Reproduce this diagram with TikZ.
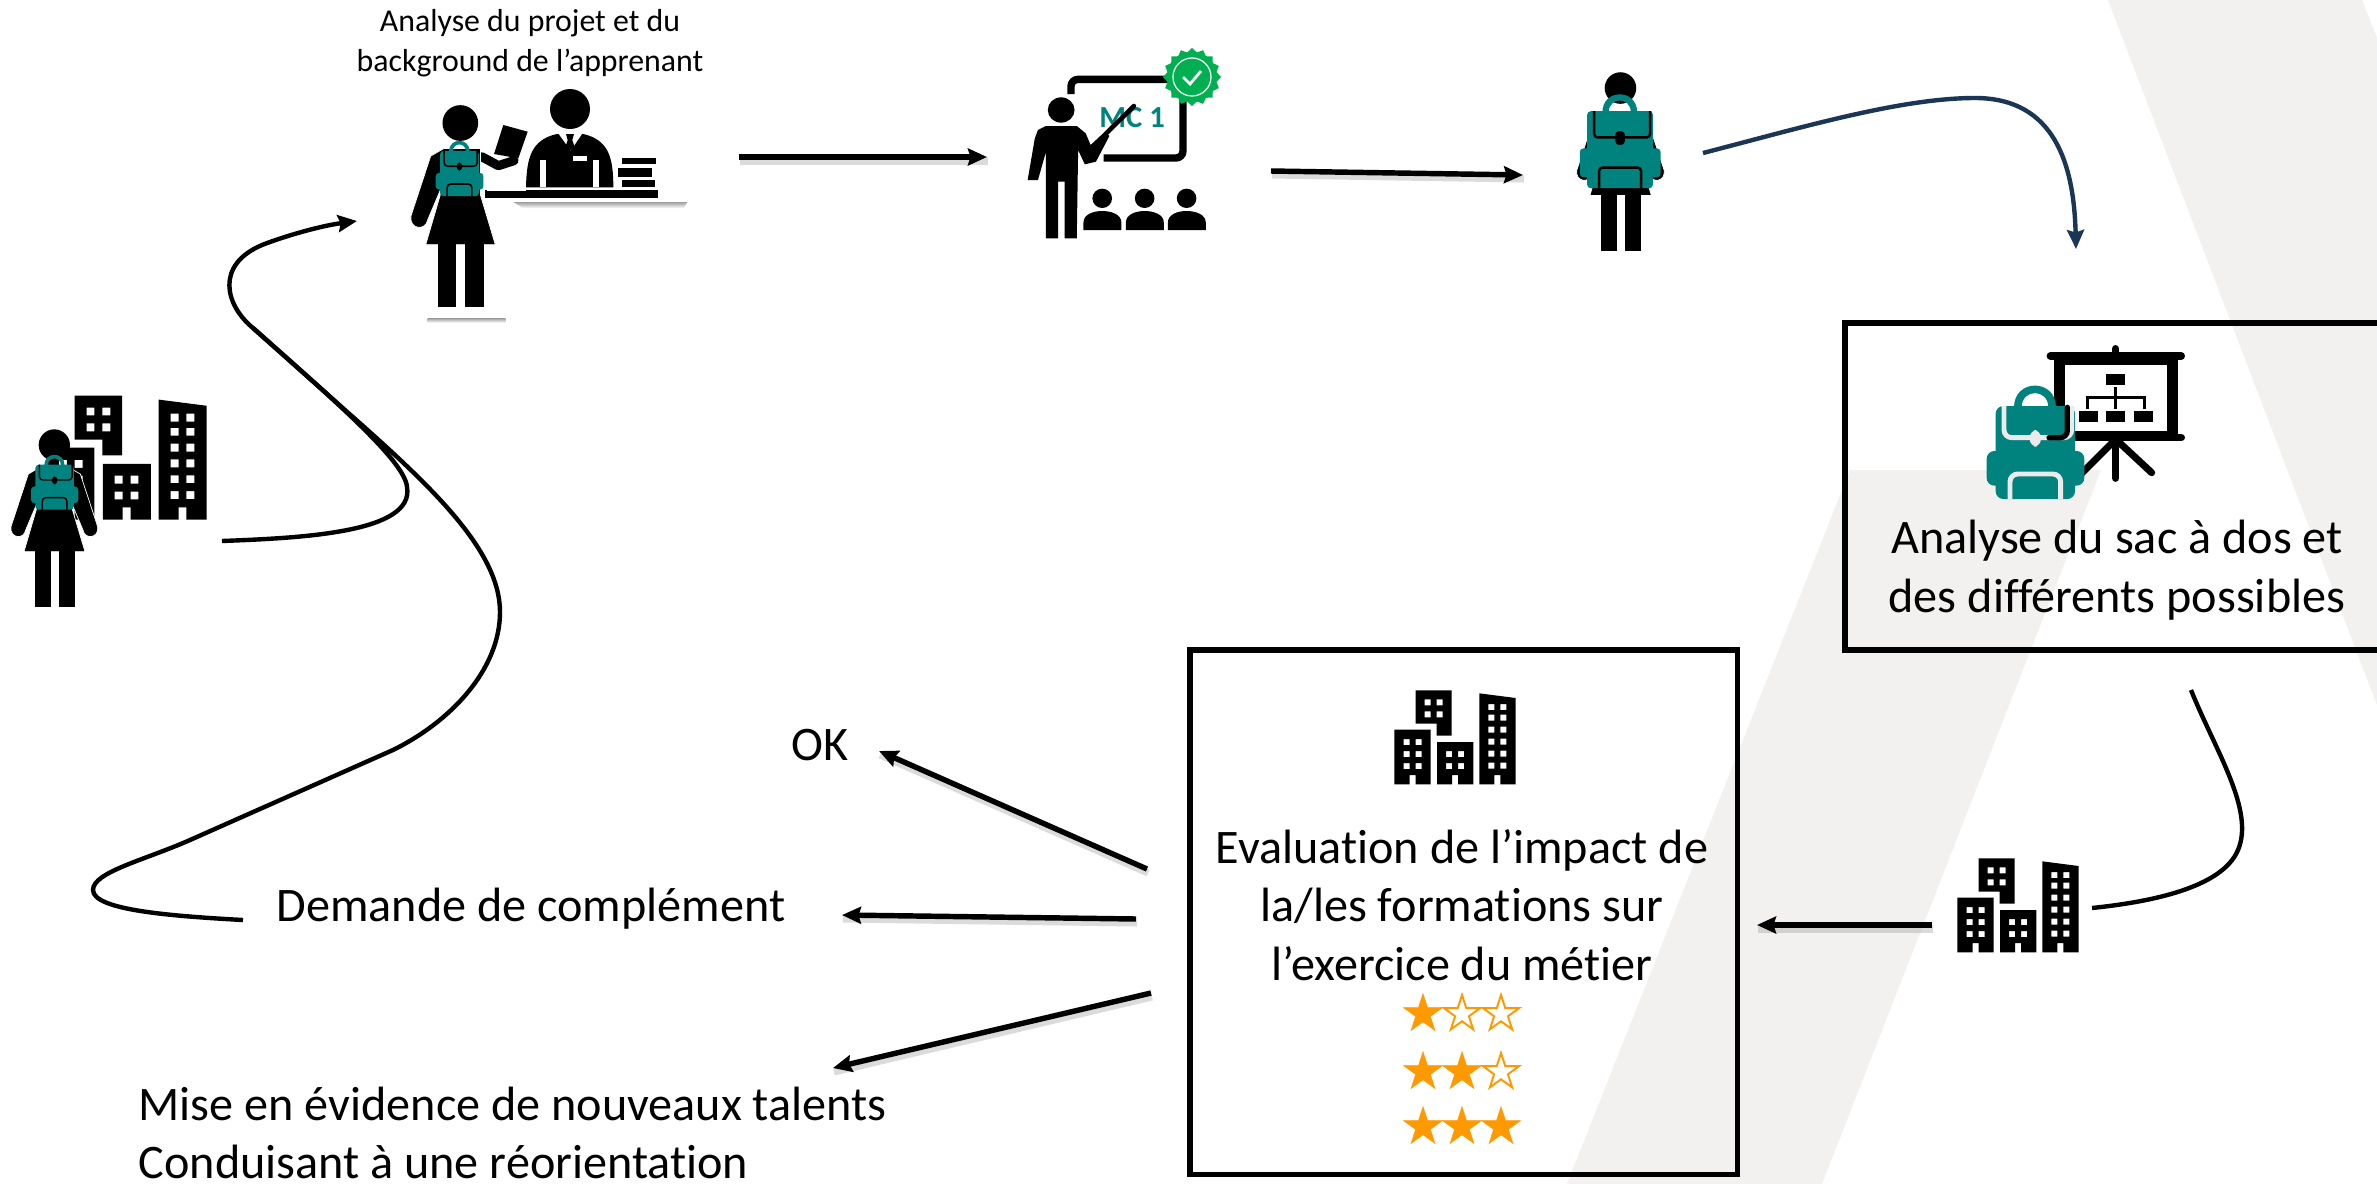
\documentclass[tikz,border=0pt]{standalone}
\usepackage{fontspec}
\setmainfont[Ligatures=NoCommon]{Carlito}
\usetikzlibrary{arrows.meta,shapes.geometric}
\definecolor{bgrey}{HTML}{F2F1F0}
\definecolor{bpteal}{HTML}{00827F}
\definecolor{navy}{HTML}{1B3555}
\definecolor{starc}{HTML}{FF9900}
\definecolor{greenb}{HTML}{00B050}
\tikzset{
  bigtxt/.style={inner sep=0pt,align=center,font=\fontsize{13.7pt}{16.6pt}\selectfont},
  smalltxt/.style={inner sep=0pt,align=center,font=\fontsize{9.05pt}{11.4pt}\selectfont},
  framebox/.style={draw=black,line width=1.55pt,anchor=north west,inner sep=0pt,outer sep=0pt},
  curveline/.style={line width=1.25pt,line cap=butt},
  tipA/.style={-{Stealth[length=5.4pt,width=4.8pt,inset=.7pt]}},
  arrowline/.style={line width=1.55pt,tipA},
  shadowline/.style={line width=2pt,draw=gray,opacity=.28},
  fullstar/.style={star,star points=5,star point ratio=2.618,fill=starc,draw=starc,line width=.1pt,inner sep=0pt,minimum size=.41cm},
  emptystar/.style={star,star points=5,star point ratio=2.618,fill=white,draw=starc,line width=.55pt,inner sep=0pt,minimum size=.38cm},
  detail/.style={draw=black,line width=.35pt},
  detailfill/.style={fill=black},
  bp round/.style={rounded corners=1pt},
  bodyline/.style={draw=white,line width=.2pt,fill=black},
  immeubles/.pic={
    \fill[black,even odd rule] (137,31)--(245,31)--(245,167)--(200,167)--(200,131)--(137,131)--cycle
      (164,58) rectangle (182,76) (200,58) rectangle (218,76)
      (164,94) rectangle (182,112) (200,94) rectangle (218,112);
    \fill[black,even odd rule] (73,149)--(182,149)--(182,313)--(137,313)--(137,285)--(119,285)--(119,313)--(73,313)--cycle
      (101,177) rectangle (119,195) (137,177) rectangle (155,195)
      (101,213) rectangle (119,231) (137,213) rectangle (155,231)
      (101,249) rectangle (119,267) (137,249) rectangle (155,267);
    \fill[black,even odd rule] (201,186)--(310,186)--(310,313)--(264,313)--(264,285)--(246,285)--(246,313)--(201,313)--cycle
      (228,213) rectangle (246,231) (264,213) rectangle (282,231)
      (228,249) rectangle (246,267) (264,249) rectangle (282,267);
    \fill[black,even odd rule] (328,40)--(437,54)--(437,313)--(391,313)--(391,285)--(373,285)--(373,313)--(328,313)--cycle
      (355,72) rectangle (373,90) (391,72) rectangle (409,90)
      (355,104) rectangle (373,122) (391,104) rectangle (409,122)
      (355,140) rectangle (373,158) (391,140) rectangle (409,158)
      (355,176) rectangle (373,194) (391,176) rectangle (409,194)
      (355,212) rectangle (373,230) (391,212) rectangle (409,230)
      (355,248) rectangle (373,266) (391,248) rectangle (409,266);
  },
  femme/.pic={
    \fill[black] (163,195) circle[radius=47];
    \path[bodyline] (120,262)--(85,282)--(33,440).. controls (28,475) and (72,480) .. (77,450)--(110,372)--(110,385)--(72,515)--(255,515)--(216,385)--(216,262)--cycle;
    \fill[black] (105,510) rectangle (152,680);
    \fill[black] (176,510) rectangle (224,680);
  },
  brasbas/.pic={
    \path[bodyline] (206,262)--(241,282)--(293,440).. controls (298,475) and (254,480) .. (249,450)--(216,372)--cycle;
  },
  sac/.pic={
    \fill[bpteal] (342,262) .. controls (342,175) and (468,175) .. (468,262) -- (445,262) .. controls (445,205) and (365,205) .. (365,262) -- cycle;
    \fill[bpteal,bp round] (287,258) rectangle (525,537);
    \fill[bpteal,bp round] (260,393) rectangle (553,497);
    \draw[detail,bp round] (312,258)--(312,353)--(395,353);
    \draw[detail,bp round] (515,258)--(515,353)--(420,353);
    \fill[detailfill,bp round] (389,330) rectangle (423,380);
    \draw[detail,bp round] (330,537)--(330,462)--(482,462)--(482,537);
  }
}
\newcommand{\flecheombre}[2]{%
  \draw[shadowline] ([shift={(1,4)}]#1)--([shift={(1,4)}]#2);
  \draw[arrowline] (#1)--(#2);}
\begin{document}
\begin{tikzpicture}[x=0.01cm,y=-0.01cm]
\useasboundingbox (0,0) rectangle (2377,1184);
\clip (0,0) rectangle (2377,1184);
\fill[white] (0,0) rectangle (2377,1184);
% background logo
\fill[bgrey] (2108,0)--(2362,0)--(2377,38)--(2377,705)--cycle;
\fill[bgrey] (1850,470)--(2101,470)--(1822,1184)--(1567,1184)--cycle;
% frames
\node[framebox,minimum width=5.55cm,minimum height=3.27cm] (boxsac) at (1845,323) {};
\node[framebox,minimum width=5.47cm,minimum height=5.24cm] (boxeval) at (1190,650) {};
% --- student and staff
\begin{scope}[shift={(350,0)},xscale=1/3,yscale=1/3]
  \shade[top color=gray!75,bottom color=white] (490,606)--(1012,606)--(1000,625)--(520,625)--cycle;
  \shade[top color=gray!75,bottom color=white] (233,955) rectangle (467,968);
  \fill[black] (660,327) circle[radius=60];
  \fill[black] (528,562) .. controls (530,470) and (545,420) .. (620,402) -- (700,402) .. controls (775,420) and (790,470) .. (790,562) -- cycle;
  \fill[white] (570,480) rectangle (588,562);
  \fill[white] (730,480) rectangle (746,562);
  \fill[white] (622,396)--(700,396)--(662,452)--cycle;
  \fill[black] (648,402)--(672,402)--(667,420)--(674,442)--(660,452)--(646,442)--(653,420)--cycle;
  \fill[white] (670,467) rectangle (712,483);
  \fill[black] (815,473) rectangle (918,493);
  \fill[black] (803,503) rectangle (905,530);
  \fill[black] (815,540) rectangle (915,562);
  \fill[black] (405,570) rectangle (923,593);
  \fill[white] (410,555) rectangle (527,573);
  \fill[black] (460,375)--(533,395)--(505,475)--(432,462)--cycle;
  \draw[black,line width=2.6pt,line cap=round,line join=round] (395,470)--(445,497)--(492,482);
\end{scope}
\pic at (398.4,48.9) [scale=.38] {femme};
\pic at (393.3,108.7) [scale=.163,detail/.style={draw=black,line width=.45pt}] {sac};
% --- presenter
\begin{scope}[shift={(1000,30)},xscale=1/2.24,yscale=1/3]
  \node[inner sep=0pt,text=bpteal,font=\fontsize{8.7pt}{10pt}\selectfont\bfseries] (mc) at (296,262) {MC 1};
  \draw[black,line width=2.1pt,rounded corners=2pt] (159,192)--(159,148)--(410,148)--(410,384)--(232,384);
  \fill[black] (137,240) ellipse[x radius=30,y radius=38];
  \fill[black] (103,288)--(172,288)--(192,310)--(203,345)--(235,305)--(245,318)--(215,395)--(190,403)--(175,360)--(172,625)--(145,625)--(145,455)--(130,455)--(130,625)--(103,625)--(103,365)--(85,450)--(62,450)--(78,325)--(85,300)--cycle;
  \draw[black,line width=1.3pt,line cap=round] (238,310)--(300,228);
  \foreach \hx in {229,324,418}{
    \fill[black] (\hx,505) ellipse[x radius=22,y radius=29];
    \fill[black] (\hx-42,600)--(\hx-42,578) .. controls (\hx-42,553) and (\hx-20,543) .. (\hx,543) .. controls (\hx+20,543) and (\hx+43,553) .. (\hx+43,578)--(\hx+43,600)--cycle;
  }
\end{scope}
\node[star,star points=16,star point ratio=1.16,fill=greenb,inner sep=0pt,minimum size=.58cm] (badge) at (1192,77) {};
\draw[white,line width=.35pt] (badge.center) circle[radius=19];
\draw[white,line width=.8pt] (1183,77)--(1190,84)--(1201,71);
% --- standing learner
\pic at (1565.7,22.5) [scale=.336] {femme};
\pic at (1565.7,22.5) [scale=.336] {brasbas};
\pic at (1508,40) [scale=.276,detail/.style={draw=black,line width=.7pt}] {sac};
% --- screen and backpack in the frame
\begin{scope}[shift={(1900,320)},scale=1/3]
  \draw[black,line width=2pt,line cap=round] (647,365)--(647,475);
  \draw[black,line width=2pt,line cap=round] (655,365)--(755,458);
  \draw[black,line width=2pt,line cap=round] (640,365)--(545,460);
  \fill[black] (463,100) rectangle (833,355);
  \fill[white] (495,135) rectangle (800,332);
  \draw[black,line width=2.1pt,line cap=round] (451,108)--(844,108);
  \draw[black,line width=2.1pt,line cap=round] (451,353)--(844,353);
  \draw[black,line width=2.1pt,line cap=round] (647,86)--(647,108);
  \fill[black] (618,162) rectangle (675,195);
  \fill[black] (537,272) rectangle (594,305);
  \fill[black] (618,272) rectangle (675,305);
  \fill[black] (702,272) rectangle (759,305);
  \draw[black,line width=.8pt] (647,200)--(647,268);
  \draw[black,line width=.8pt] (563,268)--(563,232)--(733,232)--(733,268);
\end{scope}
\pic at (1900,320) [scale=1/3,detail/.style={draw=white!92!black,line width=1.4pt},detailfill/.style={fill=white!92!black},bp round/.style={rounded corners=2.2pt}] {sac};
\begin{scope}[shift={(1900,320)},scale=1/3]
  \draw[black,line width=1.5pt,line cap=round,rounded corners=2pt] (447,353)--(502,353)--(502,262);
\end{scope}
% --- text
\node[smalltxt] (tprojet) at (530,43) {Analyse du projet et du\\background de l’apprenant};
\node[bigtxt] (tsac) at (2117,570) {Analyse du sac à dos et\\des différents possibles};
\node[bigtxt] (teval) at (1462,905) {Evaluation de l’impact de\\la/les formations sur\\l’exercice du métier};
\node[bigtxt,anchor=west] (tok) at (791,745) {OK};
\node[bigtxt,anchor=west] (tcomp) at (276,909) {Demande de complément};
\node[bigtxt,anchor=north west,align=left] (ttal) at (138,1086) {Mise en évidence de nouveaux talents\\Conduisant à une réorientation};
% --- buildings
\pic at (1370,680) [scale=1/3] {immeubles};
\pic at (1933,848) [scale=1/3] {immeubles};
\pic at (14.4,382) [scale=.44] {immeubles};
\pic at (0,380) [scale=1/3] {femme};
\pic at (0,380) [scale=1/3] {brasbas};
\pic at (-11,423) [scale=.1615,detail/.style={draw=black,line width=.4pt}] {sac};
% --- stars
\node[fullstar] (s11) at (1423,1014) {};
\node[emptystar] (s12) at (1462,1014) {};
\node[emptystar] (s13) at (1501,1014) {};
\node[fullstar] (s21) at (1423,1072) {};
\node[fullstar] (s22) at (1462,1072) {};
\node[emptystar] (s23) at (1501,1072) {};
\node[fullstar] (s31) at (1423,1127) {};
\node[fullstar] (s32) at (1462,1127) {};
\node[fullstar] (s33) at (1501,1127) {};
% --- connector ends
\coordinate (a1s) at (739,157);  \coordinate (a1e) at (987,157);
\coordinate (a2s) at (1271,171); \coordinate (a2e) at (1523,175);
\coordinate (a3s) at (1932,925); \coordinate (a3e) at (1757,925);
\coordinate (oks) at (1147,869); \coordinate (oke) at (879,751);
\coordinate (cos) at (1136,919); \coordinate (coe) at (842,915);
\coordinate (tas) at (1151,993); \coordinate (tae) at (833,1068);
\coordinate (ns) at (1703,153);  \coordinate (ne) at (2076,249);
\coordinate (bs) at (2191,690);  \coordinate (be) at (2092,908);
\coordinate (ls) at (222,541);   \coordinate (lt) at (357,221);
\coordinate (ds) at (243,920);   \coordinate (dm) at (253,328);
% --- arrows
\flecheombre{a1s}{a1e}
\flecheombre{a2s}{a2e}
\flecheombre{a3s}{a3e}
\flecheombre{oks}{oke}
\flecheombre{cos}{coe}
\flecheombre{tas}{tae}
\draw[navy,line width=1.25pt,tipA] (ns) .. controls (1800,128) and (1900,98) .. (1975,98) .. controls (2055,98) and (2074,165) .. (ne);
\draw[curveline] (bs) .. controls (2215,750) and (2255,810) .. (2238,850) .. controls (2222,888) and (2150,902) .. (be);
\draw[curveline,tipA] (ls) .. controls (300,538) and (415,533) .. (407,487) .. controls (405,462) and (340,405) .. (dm) .. controls (225,305) and (215,265) .. (262,245) .. controls (285,236) and (320,226) .. (lt);
\draw[curveline] (ds) .. controls (170,916) and (93,910) .. (93,890) .. controls (93,872) and (145,860) .. (190,840) -- (393,750) .. controls (450,722) and (500,670) .. (500,612) .. controls (500,550) and (430,485) .. (345,410) -- (dm);
\end{tikzpicture}
\end{document}
